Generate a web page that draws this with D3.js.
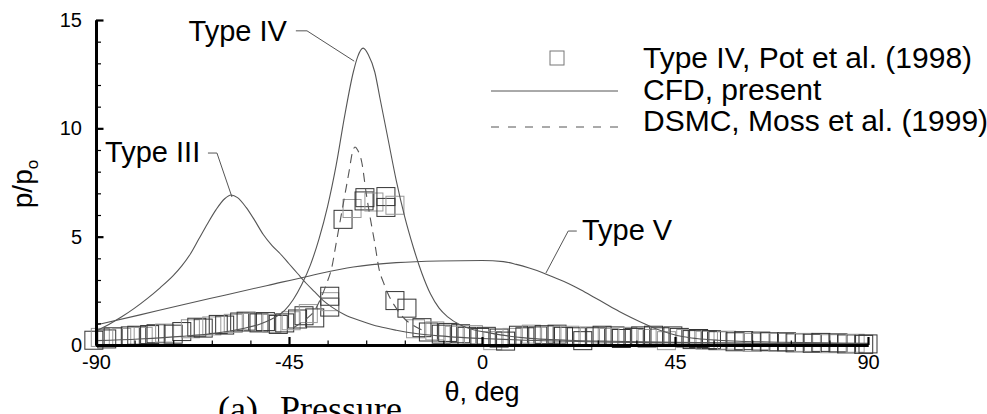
<!DOCTYPE html>
<html><head><meta charset="utf-8">
<script src="https://cdn.jsdelivr.net/npm/d3@7"></script>
<style>body{margin:0;background:#fff}svg{display:block}</style>
</head><body><svg id="chart" width="987" height="414"></svg>
<script>
// ---- data (theta in deg, p/po) ----
const xTicks = [-90, -45, 0, 45, 90];
const yTicks = [0, 5, 10, 15];
const xMinorTicks = [-81,-72,-63,-54,-36,-27,-18,-9,9,18,27,36,54,63,72,81];
const yMinorTicks = [1,2,3,4,6,7,8,9,11,12,13,14];

const typeIII = [[-90,0.65],[-87,0.95],[-84,1.3],[-81,1.7],[-78,2.15],[-75,2.65],[-72,3.2],[-70,3.65],[-68,4.2],[-66,4.9],[-64,5.6],[-62,6.25],[-60,6.75],[-58.5,6.92],[-57,6.8],[-55,6.35],[-53,5.75],[-51,5.1],[-49,4.6],[-47,4.2],[-45,3.75],[-43,3.3],[-41,2.85],[-39,2.45],[-37,2.05],[-35,1.75],[-32,1.4],[-28,1.1],[-24,0.85],[-20,0.68],[-15,0.52],[-10,0.42],[-5,0.35],[0,0.3],[10,0.22],[20,0.17],[30,0.13],[45,0.1],[60,0.08],[75,0.06],[90,0.05]];

const typeIV = [[-90,0.2],[-80,0.28],[-70,0.4],[-62,0.55],[-56,0.75],[-52,0.95],[-49,1.2],[-46,1.6],[-44,2.1],[-42,2.8],[-40,3.7],[-38,4.9],[-36,6.4],[-34,8.3],[-32,10.6],[-30,12.6],[-29,13.3],[-27.7,13.7],[-26.5,13.4],[-25,12.6],[-23.8,11.4],[-22,9.6],[-20,7.6],[-18,5.9],[-16,4.5],[-14,3.3],[-12,2.35],[-10,1.7],[-8,1.3],[-5,0.92],[-2,0.7],[2,0.55],[6,0.42],[10,0.33],[15,0.26],[20,0.22],[30,0.17],[45,0.12],[60,0.09],[75,0.07],[90,0.05]];

const typeV = [[-90,0.92],[-80,1.38],[-70,1.85],[-60,2.3],[-50,2.75],[-40,3.2],[-30,3.6],[-20,3.8],[-10,3.88],[0,3.9],[5,3.85],[8,3.72],[11,3.55],[14,3.35],[17,3.1],[20,2.85],[23,2.55],[26,2.22],[29,1.88],[32,1.55],[35,1.25],[38,0.97],[41,0.72],[44,0.52],[47,0.38],[50,0.3],[55,0.22],[60,0.17],[70,0.13],[80,0.1],[90,0.08]];

const dsmc = [[-44,0.8],[-41,1.2],[-39,1.6],[-37.5,2.2],[-36.2,2.85],[-35,3.6],[-34,4.7],[-33,5.8],[-32,6.9],[-31,8.0],[-30.2,8.9],[-29.6,9.14],[-29,9.0],[-28,8.4],[-27,7.0],[-26,5.8],[-25,4.7],[-24,3.5],[-23,2.9],[-22,2.4],[-20,1.7],[-18,1.2],[-16,0.9],[-14,0.7]];

const potData = [[-90.5,0.22],[-89,0.35],[-87.5,0.28],[-86,0.38],[-84,0.35],[-82,0.42],[-80.5,0.45],[-79,0.4],[-77.5,0.48],[-76,0.52],[-74,0.55],[-72,0.5],[-70,0.62],[-68,0.75],[-66.5,0.82],[-65,0.78],[-63,0.88],[-61.5,0.95],[-60,0.92],[-58,1.0],[-56.5,1.06],[-55,1.1],[-53.5,1.05],[-52,1.02],[-50.5,1.08],[-49,1.0],[-47.5,0.95],[-46,1.02],[-44.5,1.12],[-43,1.2],[-41.5,1.35],[-40.5,1.45],[-39,1.25],
[-35.5,1.75],[-35.5,2.0],[-35.5,2.25],
[-32.4,5.8],[-30.3,6.3],[-27.5,6.65],[-27.3,6.8],[-25.2,6.6],[-22.4,6.85],[-22.4,6.35],[-20.3,6.45],
[-20.3,2.05],[-17.5,1.7],[-15.5,0.75],[-14,0.8],[-12.5,0.6],[-11,0.65],[-9.5,0.5],[-8,0.58],[-6.5,0.45],[-5,0.52],[-3.5,0.4],[-2,0.48],[-0.5,0.35],
[1,0.4],[2.5,0.2],[4,0.32],[5.5,0.18],[7,0.35],[8.5,0.45],[10,0.38],[11.5,0.5],[13,0.42],[14.5,0.48],[16,0.45],[17.5,0.5],[19,0.4],[20.5,0.45],[22,0.38],[23.5,0.2],[25,0.42],[26.5,0.38],[28,0.45],[29.5,0.35],[31,0.42],[32.5,0.3],[34,0.4],[35.5,0.35],[37,0.42],[38.5,0.3],[40,0.45],[41.5,0.38],[43,0.2],[44.5,0.42],[46,0.35],[47.5,0.3],[49,0.25],[50.5,0.3],[52,0.22],[53.5,0.25],[55,0.2],[57,0.22],[59,0.15],[61,0.2],[63,0.12],[65,0.18],[67,0.15],[69,0.12],[71,0.15],[73,0.1],[75,0.12],[77,0.08],[79,0.12],[81,0.06],[83,0.1],[85,0.05],[87,0.08],[89,0.03],[90,0.05]];

// annotation labels: [label, theta, p, anchor] and leader polylines
const labels = [["Type IV",-45.5,14.05,"end"],["Type III",-65.7,8.45,"end"],["Type V",23.3,4.85,"start"]];
const leaders = [
  [[-43.4,14.5],[-40.8,14.5],[-29.8,13.1]],
  [[-63.9,8.86],[-61.8,8.86],[-58.3,6.83]],
  [[22.1,5.26],[20.1,5.26],[14.9,3.32]]
];
const legendItems = ["Type IV, Pot et al. (1998)", "CFD, present", "DSMC, Moss et al. (1999)"];

// ---- drawing ----
const svg = d3.select("#chart");
const SANS = "'Liberation Sans', Arial, Helvetica, sans-serif";
const x = d3.scaleLinear().domain([-90, 90]).range([96, 868]);
const y = d3.scaleLinear().domain([0, 15]).range([345, 20]);
const line = d3.line().x(d => x(d[0])).y(d => y(d[1])).curve(d3.curveMonotoneX);

// squares
const S = 18;
svg.append("g").selectAll("rect").data(potData).join("rect")
  .attr("x", d => x(d[0]) - S/2).attr("y", d => y(d[1]) - S/2)
  .attr("width", S).attr("height", S)
  .attr("fill", "none")
  .attr("stroke", (d, i) => i % 3 === 1 ? "#999" : "#333")
  .attr("stroke-width", 1);

// curves
[typeIII, typeIV, typeV].forEach(s => {
  svg.append("path").datum(s).attr("d", line)
    .attr("fill", "none").attr("stroke", "#555").attr("stroke-width", 1.1);
});
svg.append("path").datum(dsmc).attr("d", line)
  .attr("fill", "none").attr("stroke", "#555").attr("stroke-width", 1.1)
  .attr("stroke-dasharray", "9,6");

// axes
const fmt = d => String(d);
function styleAxis(g, w) {
  g.select(".domain").attr("stroke", "#000").attr("stroke-width", 3);
  g.selectAll(".tick line").attr("stroke", "#000").attr("stroke-width", w);
  g.selectAll(".tick text").attr("fill", "#000").style("font-family", SANS).style("font-size", "20px");
}
const gxMinor = svg.append("g").attr("transform", `translate(0,${y(0)})`)
  .call(d3.axisBottom(x).tickValues(xMinorTicks).tickSize(-4.5).tickSizeOuter(0).tickFormat(""));
styleAxis(gxMinor, 1.2);
const gx = svg.append("g").attr("transform", `translate(0,${y(0)})`)
  .call(d3.axisBottom(x).tickValues(xTicks).tickSize(-8).tickSizeOuter(0).tickPadding(10).tickFormat(fmt));
styleAxis(gx, 2.2);
const gyMinor = svg.append("g").attr("transform", `translate(${x(-90)},0)`)
  .call(d3.axisLeft(y).tickValues(yMinorTicks).tickSize(-5).tickSizeOuter(0).tickFormat(""));
styleAxis(gyMinor, 1.2);
const gy = svg.append("g").attr("transform", `translate(${x(-90)},0)`)
  .call(d3.axisLeft(y).tickValues(yTicks).tickSize(-7.5).tickSizeOuter(0).tickPadding(14).tickFormat(fmt));
styleAxis(gy, 2.2);

// axis titles
const yl = svg.append("text").attr("transform", "translate(32,184) rotate(-90)")
  .attr("text-anchor", "middle").style("font-family", SANS).style("font-size", "28px");
yl.append("tspan").text("p/p");
yl.append("tspan").attr("dy", 6).style("font-size", "17px").text("o");
svg.append("text").attr("x", x(0)).attr("y", 401).attr("text-anchor", "middle")
  .style("font-family", SANS).style("font-size", "27px").text("θ, deg");

// caption (partly below the bottom edge, as in the reference)
svg.append("text").attr("x", 218).attr("y", 421)
  .style("font-family", "'Liberation Serif', 'Times New Roman', serif").style("font-size", "36px").text("(a)");
svg.append("text").attr("x", 280).attr("y", 421)
  .style("font-family", "'Liberation Serif', 'Times New Roman', serif").style("font-size", "36px").text("Pressure");

// annotations
svg.append("g").selectAll("text").data(labels).join("text")
  .attr("x", d => x(d[1])).attr("y", d => y(d[2])).attr("text-anchor", d => d[3])
  .style("font-family", SANS).style("font-size", "29px").text(d => d[0]);
const plain = d3.line().x(d => x(d[0])).y(d => y(d[1]));
leaders.forEach(l => svg.append("path").attr("d", plain(l)).attr("fill", "none")
  .attr("stroke", "#555").attr("stroke-width", 1));

// legend
const lg = svg.append("g");
lg.append("rect").attr("x", 550).attr("y", 51).attr("width", 14).attr("height", 14)
  .attr("fill", "none").attr("stroke", "#777").attr("stroke-width", 1);
lg.append("line").attr("x1", 491).attr("x2", 618).attr("y1", 91).attr("y2", 91)
  .attr("stroke", "#555").attr("stroke-width", 1);
lg.append("line").attr("x1", 491).attr("x2", 618).attr("y1", 127).attr("y2", 127)
  .attr("stroke", "#555").attr("stroke-width", 1).attr("stroke-dasharray", "8,9");
lg.selectAll("text").data(legendItems).join("text")
  .attr("x", 643).attr("y", (d, i) => 68 + i * 31.5)
  .style("font-family", SANS).style("font-size", "30px").text(d => d);
</script></body></html>
